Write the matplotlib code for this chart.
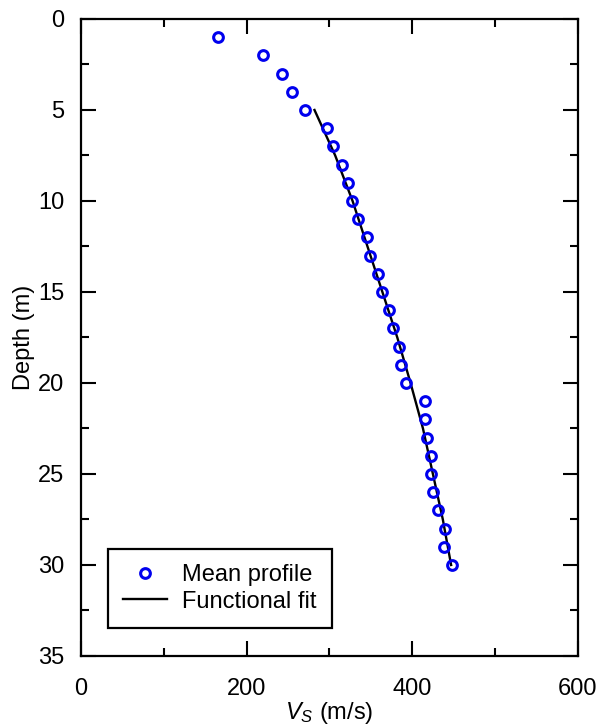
import matplotlib
matplotlib.use("Agg")
import matplotlib.pyplot as plt
from matplotlib.ticker import MultipleLocator

plt.rcParams['font.family'] = ['Liberation Sans', 'DejaVu Sans']
plt.rcParams['mathtext.fontset'] = 'custom'
plt.rcParams['mathtext.it'] = 'Liberation Sans:italic'
plt.rcParams['mathtext.rm'] = 'Liberation Sans'

# Mean profile (depth in m, Vs in m/s)
depth_pts = [1, 2, 3, 4, 5, 6, 7, 8, 9, 10, 11, 12, 13, 14, 15,
             16, 17, 18, 19, 20, 21, 22, 23, 24, 25, 26, 27, 28, 29, 30]
vs_pts = [166, 220, 243, 255, 270, 297, 304, 315, 322, 327, 334, 345, 349, 359, 363,
          372, 377, 384, 387, 392, 416, 416, 418, 423, 423, 425, 431, 440, 439, 448]

# Functional fit
depth_fit = [5, 7.5, 10, 12.5, 15, 17.5, 20, 22.5, 25, 27.5, 30]
vs_fit = [282, 307, 328, 346, 364, 382, 398, 413, 425, 437, 447]

fig = plt.figure(figsize=(6, 7.25), dpi=100)
ax = fig.add_axes([0.135, 0.0952, 0.828, 0.8786])

ax.plot(vs_pts, depth_pts, linestyle='none', marker='o', markersize=7,
        markerfacecolor='none', markeredgecolor='#0000ee', markeredgewidth=2.2,
        label='Mean profile', zorder=3)
ax.plot(vs_fit, depth_fit, color='black', linewidth=1.7, label='Functional fit', zorder=2)

ax.set_xlim(0, 600)
ax.set_ylim(35, 0)
ax.xaxis.set_major_locator(MultipleLocator(200))
ax.xaxis.set_minor_locator(MultipleLocator(100))
ax.yaxis.set_major_locator(MultipleLocator(5))
ax.yaxis.set_minor_locator(MultipleLocator(2.5))

ax.tick_params(which='both', direction='in', top=True, right=True, width=1.5,
               labelsize=17, colors='black')
ax.tick_params(which='major', length=11)
ax.tick_params(which='minor', length=5.5)
ax.tick_params(axis='x', which='major', pad=16)
ax.tick_params(axis='y', which='major', pad=12)

for s in ax.spines.values():
    s.set_linewidth(1.6)

ax.set_xlabel(r'$V_S$ (m/s)', fontsize=17, labelpad=0)
ax.set_ylabel('Depth (m)', fontsize=17, labelpad=2)

leg = ax.legend(loc='lower left', bbox_to_anchor=(0.054, 0.044), borderaxespad=0,
                fontsize=17, frameon=True, fancybox=False, edgecolor='black',
                framealpha=1, handlelength=1.86, handletextpad=0.62,
                borderpad=0.65, labelspacing=0.2)
leg.get_frame().set_linewidth(1.6)

fig.savefig('out.png', dpi=100)
